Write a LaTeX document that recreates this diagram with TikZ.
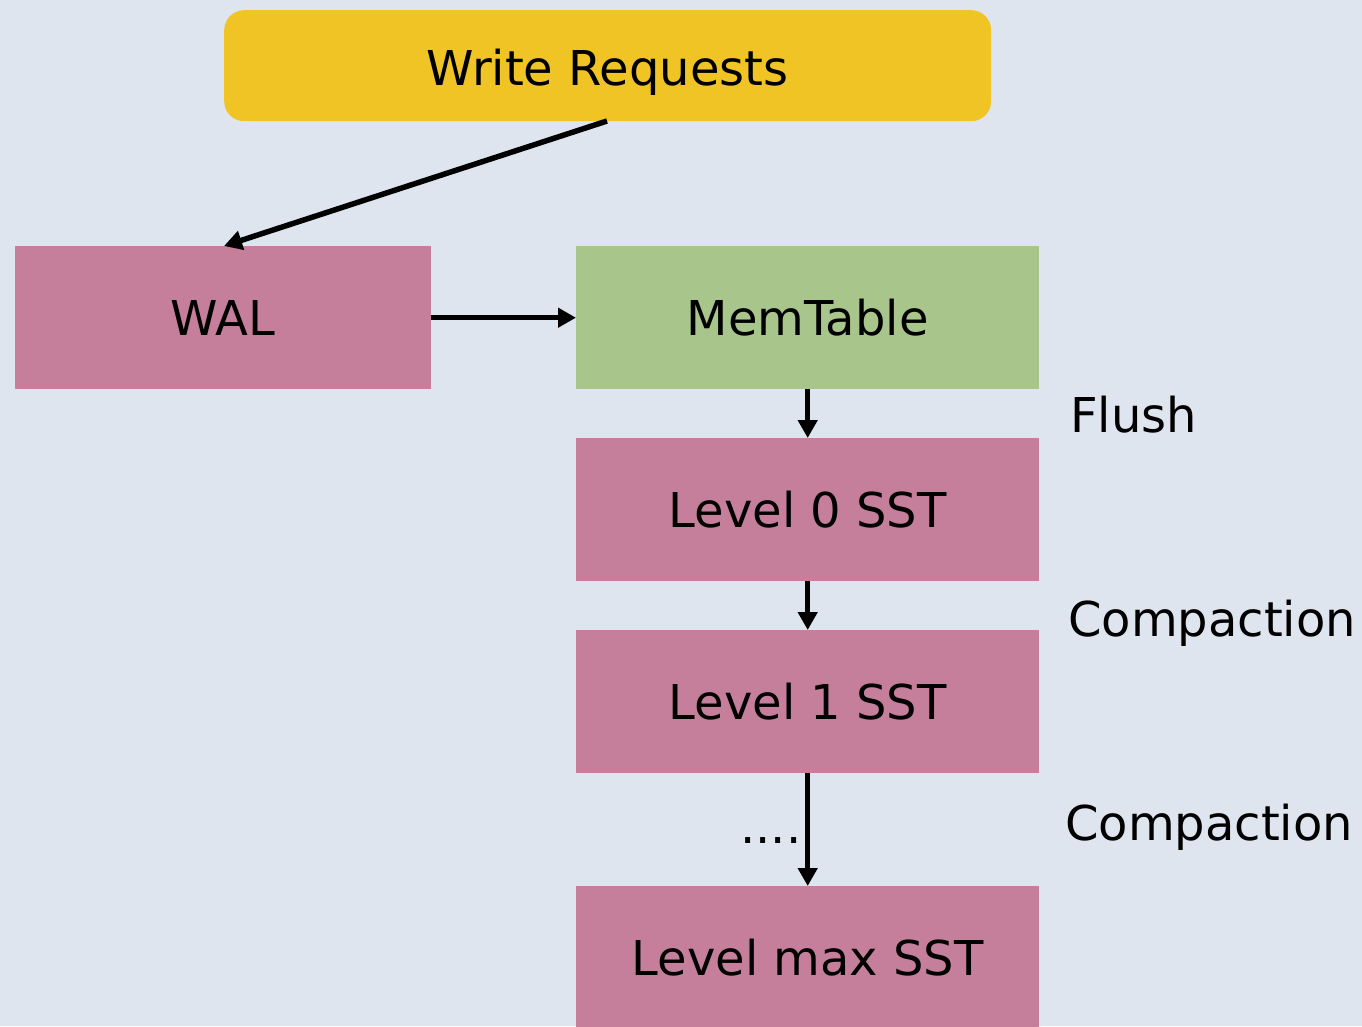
\documentclass[tikz,border=0pt]{standalone}
\usepackage{fontspec}
\setmainfont{DejaVu Sans}
\usetikzlibrary{arrows.meta}
\definecolor{bgc}{HTML}{DFE5EF}
\definecolor{yel}{HTML}{F0C424}
\definecolor{pinkc}{HTML}{C57F9B}
\definecolor{greenc}{HTML}{A8C68B}
\begin{document}
\begin{tikzpicture}[x=1pt,y=-1pt,
  every node/.style={font=\fontsize{48}{56}\selectfont},
  box/.style={draw=none, minimum height=143pt, inner sep=0pt, anchor=north west},
  pbox/.style={box, fill=pinkc},
  conn/.style={line width=5.5pt, -{Triangle[length=18pt,width=19pt]}},
  lbl/.style={anchor=base west, inner sep=0pt}]
\useasboundingbox[fill=bgc] (0,0) rectangle (1362,1026);
\node[box, fill=yel, rounded corners=20pt, minimum width=767pt, minimum height=111pt, text height=39pt, text depth=0pt] (wr) at (224,10) {Write Requests};
\node[pbox, minimum width=416pt] (wal) at (15,246) {WAL};
\node[box, fill=greenc, minimum width=463pt] (mem) at (576,246) {MemTable};
\node[pbox, minimum width=463pt] (l0) at (576,438) {Level 0 SST};
\node[pbox, minimum width=463pt] (l1) at (576,630) {Level 1 SST};
\node[pbox, minimum width=463pt] (lm) at (576,886) {Level max SST};
\coordinate (wrs) at (607,121);
\coordinate (walt) at (224,246);
\draw[conn] (wrs) -- (walt);
\draw[conn] (wal.east) -- (mem.west);
\draw[conn] (mem.south) -- (l0.north);
\draw[conn] (l0.south) -- (l1.north);
\draw[conn] (l1.south) -- (lm.north);
\node[lbl] (fl) at (1070,432) {Flush};
\node[lbl] (c1) at (1068,636) {Compaction};
\node[lbl] (c2) at (1065,840) {Compaction};
\node[lbl] (dots) at (740,843) {....};
\end{tikzpicture}
\end{document}
